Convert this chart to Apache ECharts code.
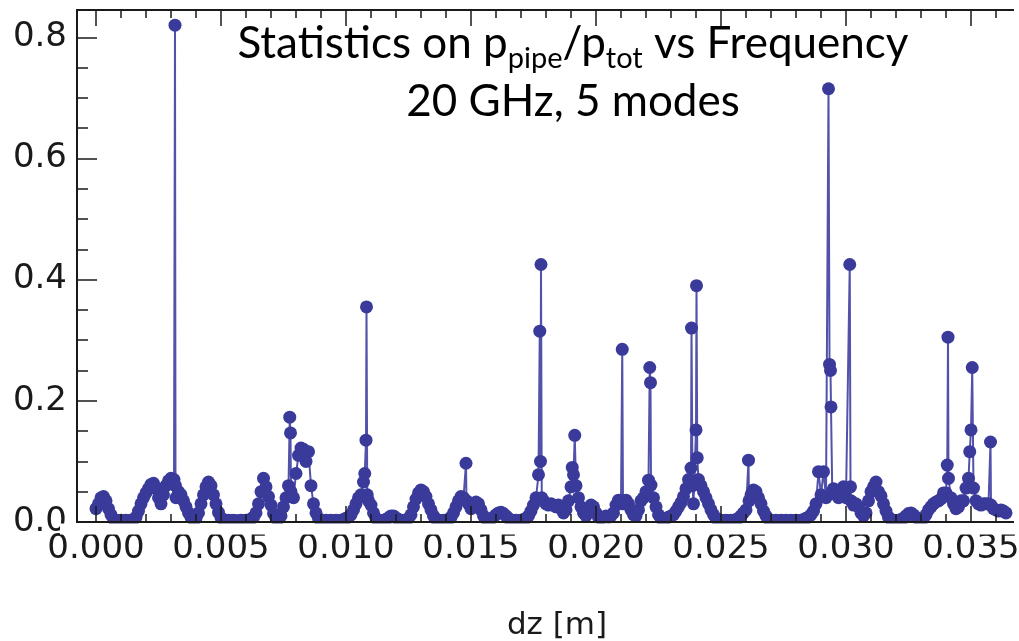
<!DOCTYPE html>
<html>
<head>
<meta charset="utf-8">
<script src="https://cdn.jsdelivr.net/npm/echarts@6/dist/echarts.min.js"></script>
<style>html,body{margin:0;padding:0;background:#fff;}#chart{width:1019px;height:641px;}</style>
</head>
<body>
<div id="chart"></div>
<script>
// dz [m] sample positions and p_pipe/p_tot values
const dz = [
0.0000,0.0001,0.0002,0.0003,0.0004,0.0005,0.0006,0.0007,
0.0008,0.0009,0.0010,0.0011,0.0012,0.0013,0.0014,0.0015,0.0016,
0.0017,0.0018,0.0019,0.0020,0.0021,0.0022,0.0023,0.0024,0.0025,0.0026,0.0027,0.0028,0.0029,0.0030,0.00312,0.00316,0.00318,0.0032,0.0033,0.0034,0.0035,0.0036,0.0037,0.0038,0.0039,0.0040,
0.0041,0.0042,0.0043,0.0044,0.0045,0.0046,0.0047,0.0048,0.0049,0.0050,
0.0051,0.0052,0.0053,0.0054,0.0055,0.0056,0.0057,0.0058,0.0059,0.0060,0.0061,0.0062,0.0063,
0.0064,0.0065,0.0066,0.0067,0.0068,0.0069,0.0070,0.0071,0.0072,0.0073,0.0074,
0.0075,0.0076,0.0077,0.00775,0.00778,0.0078,0.0079,0.0080,0.0081,0.0082,0.0083,0.0084,0.0085,0.0086,0.0087,0.0088,0.0089,
0.0090,0.0091,0.0092,0.0093,0.0094,0.0095,0.0096,0.0097,0.0098,0.0099,0.0100,0.0101,0.0102,
0.0103,0.0104,0.0105,0.0106,0.0107,0.01075,0.0108,0.01082,0.01085,0.0109,0.0110,0.0111,0.0112,
0.0113,0.0114,0.0115,0.0116,0.0117,0.0118,0.0119,0.0120,0.0121,0.0122,0.0123,0.0124,0.0125,
0.0126,0.0127,0.0128,0.0129,0.0130,0.0131,0.0132,0.0133,0.0134,0.0135,0.0136,
0.0137,0.0138,0.0139,0.0140,0.0141,0.0142,
0.0143,0.0144,0.0145,0.0146,0.0147,0.0148,0.01482,0.0149,0.0150,0.0151,0.0152,0.0153,0.0154,0.0155,0.0156,0.0157,
0.0158,0.0159,0.0160,0.0161,0.0162,0.0163,0.0164,0.0165,0.0166,0.0167,0.0168,0.0169,0.0170,0.0171,0.0172,0.0173,
0.0174,0.0175,0.0176,0.0177,0.01775,0.01778,0.0178,0.01783,0.0179,0.0180,0.0181,0.0182,0.0183,0.0184,0.0185,0.0186,0.0187,0.0188,
0.0189,0.0190,0.01905,0.0191,0.01915,0.0192,0.0193,0.0194,0.0195,0.0196,0.0197,0.0198,0.0199,0.0200,0.0201,0.0202,0.0203,0.0204,0.0205,0.0206,
0.0207,0.0208,0.0209,0.0210,0.02105,0.02108,0.0212,0.0213,0.0214,0.0215,0.0216,
0.0217,0.0218,0.0219,0.0220,0.0221,0.02215,0.02218,0.0222,0.0223,0.0224,0.0225,0.0226,0.0227,0.0228,0.0229,0.0230,0.0231,
0.0232,0.0233,0.0234,0.0235,0.0236,0.0237,0.0238,0.02382,0.02386,0.0239,0.0240,0.02402,0.02405,0.0241,0.0242,0.0243,0.0244,0.0245,0.0246,0.0247,0.0248,
0.0249,0.0250,0.0251,0.0252,0.0253,0.0254,0.0255,0.0256,0.0257,0.0258,0.0259,0.0260,
0.0261,0.02612,0.0262,0.0263,0.0264,0.0265,0.0266,0.0267,0.0268,0.0269,
0.0270,0.0271,0.0272,0.0273,0.0274,0.0275,0.0276,0.0277,0.0278,0.0279,0.0280,0.0281,0.0282,0.0283,0.0284,0.0285,
0.0286,0.0287,0.0288,0.0289,0.0290,0.0291,0.0292,0.0293,0.02934,0.02938,0.0294,0.02945,0.0295,0.0296,0.0297,0.0298,0.0299,0.0300,0.03015,0.03018,0.0302,0.0303,0.0304,0.0305,0.0306,0.0307,
0.0308,0.0309,0.0310,0.0311,0.0312,0.0313,0.0314,0.0315,0.0316,0.0317,
0.0318,0.0319,0.0320,0.0321,0.0322,0.0323,0.0324,0.0325,0.0326,0.0327,0.0328,0.0329,0.0330,0.0331,
0.0332,0.0333,0.0334,0.0335,0.0336,0.0337,0.0338,0.0339,0.0340,0.03405,0.03408,0.0341,0.0342,0.0343,0.0344,
0.0345,0.0346,0.0347,0.0348,0.0349,0.03495,0.0350,0.03505,0.0351,0.0352,0.0353,0.0354,0.0355,0.0356,0.0357,0.03578,0.0358,0.0359,0.0360,0.0361,0.0362,0.0363,0.0364
];
const pipeRatio = [
0.022,0.030,0.040,0.042,0.035,0.022,0.012,0.005,
0.003,0.002,0.003,0.002,0.003,0.002,0.003,0.004,0.008,
0.018,0.030,0.040,0.048,0.055,0.062,0.064,0.055,0.040,0.030,0.045,0.060,0.068,0.072,0.070,0.820,0.060,0.040,0.050,0.045,0.035,0.025,0.015,0.008,0.004,0.006,
0.015,0.030,0.045,0.058,0.066,0.060,0.045,0.030,0.016,0.007,
0.003,0.002,0.003,0.002,0.003,0.002,0.002,0.003,0.002,0.003,0.003,0.005,0.008,
0.015,0.030,0.050,0.072,0.058,0.042,0.028,0.014,0.006,0.005,0.010,
0.025,0.040,0.060,0.173,0.147,0.050,0.040,0.080,0.110,0.122,0.120,0.100,0.116,0.060,0.030,0.015,0.006,
0.003,0.002,0.003,0.002,0.003,0.002,0.003,0.002,0.003,0.004,0.006,0.008,0.012,
0.020,0.030,0.040,0.045,0.066,0.080,0.135,0.355,0.045,0.035,0.028,0.015,0.006,
0.003,0.002,0.003,0.004,0.007,0.010,0.010,0.007,0.004,0.003,0.002,0.003,0.006,
0.012,0.025,0.038,0.048,0.053,0.050,0.042,0.030,0.020,0.010,0.005,
0.003,0.002,0.003,0.002,0.004,0.008,
0.015,0.025,0.035,0.042,0.040,0.097,0.035,0.030,0.022,0.028,0.033,0.030,0.020,0.010,0.005,0.003,
0.005,0.008,0.012,0.015,0.016,0.014,0.010,0.006,0.003,0.002,0.003,0.002,0.003,0.004,0.006,0.010,
0.018,0.028,0.040,0.078,0.315,0.100,0.425,0.040,0.035,0.030,0.028,0.030,0.028,0.025,0.028,0.022,0.015,0.020,
0.035,0.058,0.090,0.078,0.143,0.060,0.040,0.025,0.015,0.010,0.020,0.028,0.025,0.015,0.008,0.006,0.008,0.010,0.008,0.010,
0.015,0.028,0.036,0.035,0.285,0.030,0.036,0.030,0.020,0.012,0.010,
0.020,0.035,0.040,0.050,0.069,0.255,0.230,0.061,0.040,0.025,0.012,0.006,0.005,0.006,0.008,0.010,0.012,
0.018,0.025,0.032,0.042,0.055,0.070,0.089,0.320,0.060,0.030,0.152,0.390,0.106,0.070,0.060,0.050,0.040,0.030,0.020,0.012,0.006,
0.004,0.003,0.002,0.003,0.002,0.003,0.002,0.004,0.006,0.010,0.015,0.020,
0.102,0.035,0.045,0.053,0.050,0.040,0.030,0.018,0.010,0.005,
0.003,0.002,0.003,0.002,0.003,0.002,0.003,0.002,0.003,0.002,0.003,0.002,0.003,0.004,0.006,0.008,
0.012,0.018,0.030,0.083,0.045,0.083,0.040,0.715,0.260,0.250,0.190,0.050,0.055,0.045,0.040,0.050,0.058,0.040,0.425,0.058,0.035,0.028,0.030,0.025,0.015,0.010,
0.015,0.035,0.050,0.058,0.066,0.050,0.043,0.030,0.018,0.008,
0.004,0.003,0.002,0.003,0.004,0.006,0.010,0.014,0.015,0.012,0.008,0.005,0.004,0.006,
0.012,0.020,0.025,0.030,0.033,0.035,0.038,0.048,0.048,0.094,0.305,0.072,0.040,0.030,0.022,
0.025,0.035,0.035,0.056,0.072,0.116,0.152,0.255,0.056,0.035,0.030,0.028,0.030,0.030,0.030,0.132,0.028,0.022,0.020,0.018,0.020,0.018,0.015
];
const xMajorTicks = [0.000,0.005,0.010,0.015,0.020,0.025,0.030,0.035];
const xMinorTicks = [0.001,0.002,0.003,0.004,0.006,0.007,0.008,0.009,0.011,0.012,0.013,0.014,0.016,0.017,0.018,0.019,0.021,0.022,0.023,0.024,0.026,0.027,0.028,0.029,0.031,0.032,0.033,0.034,0.036];
const yMajorTicks = [0.0,0.2,0.4,0.6,0.8];
const yMinorTicks = [0.05,0.10,0.15,0.25,0.30,0.35,0.45,0.50,0.55,0.65,0.70,0.75];

const X_MIN = -0.00076, X_MAX = 0.03668, Y_MIN = 0, Y_MAX = 0.845;
const AX = '#1a1a1a';

function xAxisDef(pos, ticks, len, labels) {
  return {
    type: 'value', position: pos, min: X_MIN, max: X_MAX,
    axisLine: { show: labels !== null, onZero: false, lineStyle: { color: AX, width: 2 } },
    axisTick: { show: true, inside: true, length: len, customValues: ticks, lineStyle: { color: AX, width: 1.5 } },
    axisLabel: labels ? { show: true, customValues: ticks, formatter: v => v.toFixed(3), fontFamily: 'DejaVu Sans', fontSize: 34, color: '#1a1a1a', margin: 10, hideOverlap: false } : { show: false },
    splitLine: { show: false },
    z: 5
  };
}

const chart = echarts.init(document.getElementById('chart'), null, { renderer: 'canvas' });
const bottomMajor = xAxisDef('bottom', xMajorTicks, 16, true);
bottomMajor.name = 'dz [m]';
bottomMajor.nameLocation = 'middle';
bottomMajor.nameGap = 88;
bottomMajor.nameMoveOverlap = false;
bottomMajor.nameTextStyle = { fontFamily: 'DejaVu Sans', fontSize: 31, color: '#1a1a1a', padding: [0, 0, 0, 24] };

chart.setOption({
  animation: false,
  backgroundColor: '#fff',
  title: {
    text: '{a|Statistics on p}{s|pipe}{a|/p}{s|tot}{a| vs Frequency}\n{a|20 GHz, 5 modes}',
    left: 568, top: 10, textAlign: 'center',
    textStyle: {
      fontWeight: 'normal',
      rich: {
        a: { fontFamily: 'Lato', fontSize: 44, fontWeight: 'normal', color: '#000', lineHeight: 58 },
        s: { fontFamily: 'Lato', fontSize: 29, fontWeight: 'normal', color: '#000', lineHeight: 40, verticalAlign: 'bottom' }
      }
    }
  },
  grid: { left: 77, right: 6, top: 10, bottom: 119, containLabel: false, outerBoundsMode: 'none' },
  // white strip just under the bottom frame so dots do not spill below it (the reference clips at the frame)
  graphic: [{
    type: 'rect', z: 50, silent: true,
    shape: { x: 60, y: 523.5, width: 959, height: 11 },
    style: { fill: '#fff' }
  }],
  xAxis: [
    bottomMajor,
    xAxisDef('bottom', xMinorTicks, 8, false),
    xAxisDef('top', xMajorTicks, 16, false),
    xAxisDef('top', xMinorTicks, 8, false)
  ],
  yAxis: [
    {
      type: 'value', position: 'left', min: Y_MIN, max: Y_MAX,
      axisLine: { show: true, onZero: false, lineStyle: { color: AX, width: 2 } },
      axisTick: { show: true, inside: true, length: 20, customValues: yMajorTicks, lineStyle: { color: AX, width: 1.5 } },
      axisLabel: { show: true, customValues: yMajorTicks, formatter: v => v.toFixed(1), fontFamily: 'DejaVu Sans', fontSize: 34, color: '#1a1a1a', margin: 10 },
      splitLine: { show: false },
      z: 5
    },
    {
      type: 'value', position: 'left', min: Y_MIN, max: Y_MAX,
      axisLine: { show: false, onZero: false },
      axisTick: { show: true, inside: true, length: 11, customValues: yMinorTicks, lineStyle: { color: AX, width: 1.5 } },
      axisLabel: { show: false },
      splitLine: { show: false },
      z: 5
    }
  ],
  series: [{
    type: 'line',
    xAxisIndex: 0, yAxisIndex: 0,
    data: dz.map((x, i) => [x, pipeRatio[i]]),
    symbol: 'circle', symbolSize: 13, showAllSymbol: true,
    lineStyle: { color: '#5252aa', width: 2 },
    itemStyle: { color: '#3a3a9b' },
    emphasis: { disabled: true },
    z: 3
  }]
});
</script>
</body>
</html>
